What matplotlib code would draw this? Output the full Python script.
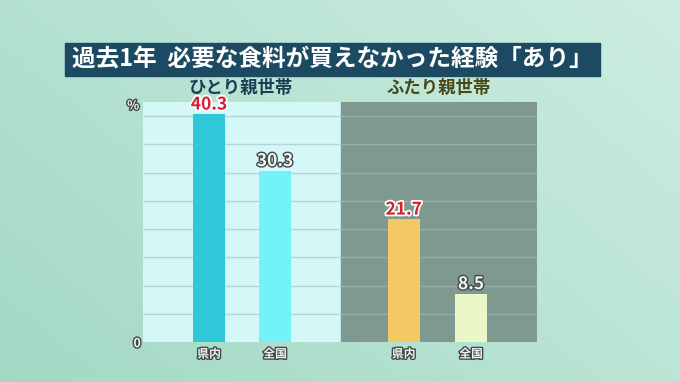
import numpy as np
import matplotlib.pyplot as plt
import matplotlib.patheffects as pe

plt.rcParams['font.family'] = ['Noto Sans CJK JP', 'DejaVu Sans']

title = '過去1年  必要な食料が買えなかった経験「あり」'
groups = ['ひとり親世帯', 'ふたり親世帯']
cats = ['県内', '全国']
single = [40.3, 30.3]
double = [21.7, 8.5]

W, H = 680, 382
fig = plt.figure(figsize=(6.8, 3.82), dpi=100)

# background gradient
bg = fig.add_axes([0, 0, 1, 1])
gx = np.linspace(0, 1, 200)
gy = np.linspace(0, 1, 100)
X, Y = np.meshgrid(gx, gy)
c1 = np.array([0.64, 0.85, 0.77])
c2 = np.array([0.80, 0.93, 0.88])
t = (0.6 * X + 0.4 * (1 - Y))[..., None]
bg.imshow(c1 * (1 - t) + c2 * t, aspect='auto', extent=[0, 1, 0, 1])
bg.axis('off')

# title box
fig.patches.append(plt.Rectangle((65 / W, 1 - 76 / H), 535 / W, 33 / H,
                                 transform=fig.transFigure, color='#1c4a62'))
fig.text(332 / W, 1 - 60 / H, title, color='white', fontsize=17, fontweight='bold',
         ha='center', va='center')

ax = fig.add_axes([143 / W, 1 - 342 / H, 394 / W, 240 / H])
ymax = 42.5
ax.set_xlim(0.5, 6.47)
ax.set_ylim(0, ymax)

ax.axvspan(0.5, 3.5, color='#d4f8f8', zorder=0)
ax.axvspan(3.5, 6.47, color='#7f9890', zorder=0)
for g in range(5, 45, 5):
    ax.hlines(g, 0.5, 3.5, color='#b4d4d8', lw=1, zorder=1)
    ax.hlines(g, 3.5, 6.47, color='#98aea6', lw=1, zorder=1)

x_single = [1.5, 2.5]
x_double = [4.45, 5.47]
bw = 0.485
ax.bar(x_single, single, width=bw, color=['#2ec8d8', '#74f2fa'], zorder=2)
ax.bar(x_double, double, width=bw, color=['#f2c862', '#eaf8c8'], zorder=2)

red = dict(color='#d42030', path_effects=[pe.withStroke(linewidth=2.5, foreground='white')])
wht = dict(color='#f4f4f4', path_effects=[pe.withStroke(linewidth=2, foreground='#404848')])
for i, (x, v) in enumerate(zip(x_single + x_double, single + double)):
    st = red if i % 2 == 0 else wht
    ax.text(x, v + 0.15, f'{v}', ha='center', va='bottom', fontsize=12.5,
            fontweight='bold', **st)
    ax.text(x, -1.0, cats[i % 2], ha='center', va='top', fontsize=8.5,
            fontweight='bold', clip_on=False, **wht)

ax.text(0.35, 41.8, '%', ha='center', va='center', fontsize=9, fontweight='bold',
        **wht)
ax.text(0.41, -0.3, '0', ha='center', va='center', fontsize=9, fontweight='bold',
        **wht)

fig.text(241 / W, 1 - 93 / H, groups[0], ha='center', va='baseline', fontsize=12.5,
         fontweight='bold', color='#1c3c58')
fig.text(439 / W, 1 - 93 / H, groups[1], ha='center', va='baseline', fontsize=12.5,
         fontweight='bold', color='#4a4818')

ax.set_xticks([])
ax.set_yticks([])
for s in ax.spines.values():
    s.set_visible(False)

fig.savefig('out.png', dpi=100)
